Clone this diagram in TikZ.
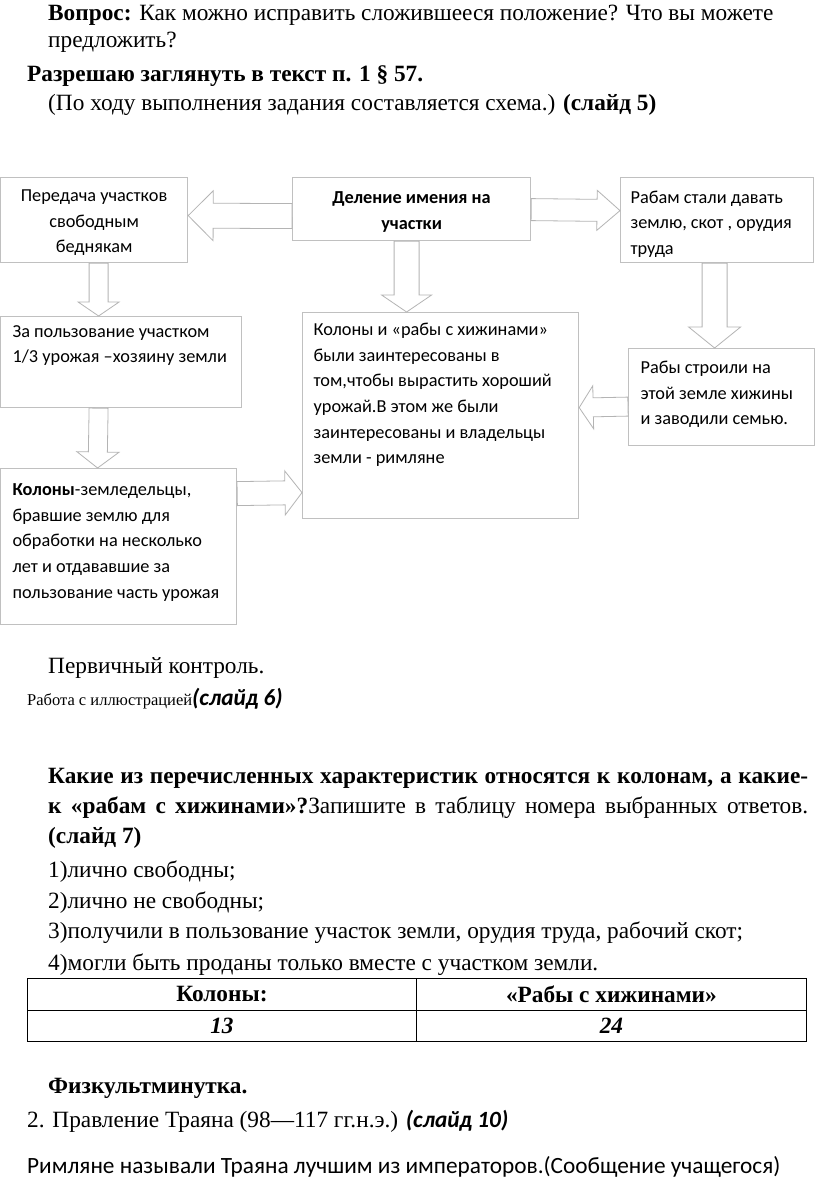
\documentclass[tikz,border=0pt]{standalone}
\usepackage{fontspec}
\setmainfont{Liberation Serif}
\newfontfamily\calibri{Carlito}
\usetikzlibrary{calc}

\definecolor{boxgray}{RGB}{192,192,192}
\definecolor{arrowgray}{RGB}{180,180,180}

\newcommand{\bodyfont}{\fontsize{23.3}{27}\selectfont}
\newcommand{\smallbody}{\fontsize{16.5}{19}\selectfont}
\newcommand{\boxfont}{\calibri\fontsize{18.3}{25.6}\selectfont}

% block arrow: start, tip, shaft half width, head half width, head length
\newcommand{\fatarrow}[5]{%
  \draw[fatline] let \p1=#1, \p2=#2, \n1={atan2(\y2-\y1,\x2-\x1)}, \n2={veclen(\x2-\x1,\y2-\y1)} in
    ($(\p1)+(\n1+90:#3)$) -- ++(\n1:\n2-#5) -- ++(\n1+90:#4-#3) -- (\p2)
    -- ($(\p2)+(\n1+180:#5)+(\n1-90:#4)$) -- ++(\n1+90:#4-#3) -- ($(\p1)+(\n1-90:#3)$) -- cycle;}

\begin{document}
\begin{tikzpicture}[x=1pt,y=1pt]
\tikzstyle{box}=[draw=boxgray,line width=1.2pt,fill=white,anchor=north west,inner sep=0pt,font=\boxfont]
\tikzstyle{fatline}=[draw=arrowgray,line width=0.8pt,fill=white,line join=miter]
\tikzstyle{txt}=[anchor=base west,inner sep=0pt,font=\bodyfont]
\tikzstyle{cell}=[draw,line width=0.8pt,anchor=north west,minimum width=389pt,minimum height=31.5pt,inner sep=0pt,font=\bodyfont]
\useasboundingbox (0,0) rectangle (816,-1204);
\fill[white] (0,0) rectangle (816,-1204);

% text above the scheme
\node[txt] (vopros) at (48,-21) {\textbf{Вопрос:} Как можно исправить сложившееся положение? Что вы можете};
\node[txt] (vopros2) at (48,-48) {предложить?};
\node[txt] (razreshayu) at (27,-82) {\textbf{Разрешаю заглянуть в текст п. 1 § 57.}};
\node[txt] (hod) at (48,-111) {(По ходу выполнения задания составляется схема.) \textbf{(слайд 5)}};

% scheme
\node[box,minimum width=187pt] (peredacha) at (0,-177)
  {\parbox[t][85pt][t]{170pt}{\centering\rule{0pt}{24pt}Передача участков\\свободным\\беднякам}};
\node[box,minimum width=238pt] (delenie) at (292,-177)
  {\parbox[t][63pt][t]{220pt}{\centering\bfseries\rule{0pt}{26pt}Деление имения на\\участки}};
\node[box,minimum width=193pt] (rabam) at (620,-177)
  {\parbox[t][85pt][t]{173pt}{\raggedright\rule{0pt}{25.7pt}Рабам стали давать\\землю, скот , орудия\\труда}};
\node[box,minimum width=241pt] (polzovanie) at (0,-316)
  {\parbox[t][91pt][t]{217pt}{\raggedright\rule{0pt}{20.7pt}За пользование участком\\1/3 урожая –хозяину земли}};
\node[box,minimum width=276pt] (interes) at (302,-312)
  {\parbox[t][206pt][t]{254pt}{\raggedright\rule{0pt}{23pt}Колоны и «рабы с хижинами»\\были заинтересованы в\\том,чтобы вырастить хороший\\урожай.В этом же были\\заинтересованы и владельцы\\земли - римляне}};
\node[box,minimum width=186pt] (stroili) at (628,-348)
  {\parbox[t][97pt][t]{162pt}{\raggedright\rule{0pt}{25pt}Рабы строили на\\этой земле хижины\\и заводили семью.}};
\node[box,minimum width=236pt] (kolony) at (0,-468)
  {\parbox[t][156pt][t]{212pt}{\raggedright\rule{0pt}{27pt}\textbf{Колоны}-земледельцы,\\бравшие землю для\\обработки на несколько\\лет и отдававшие за\\пользование часть урожая}};

% block arrows
\fatarrow{([yshift=-7pt]delenie.west)}{([yshift=4.5pt]peredacha.east)}{12.5}{25}{25}
\fatarrow{([yshift=-0.5pt]delenie.east)}{([yshift=9.5pt]rabam.west)}{11}{20}{23}
\fatarrow{([xshift=-5pt]delenie.south)}{([xshift=-34pt]interes.north)}{12.5}{25}{17}
\fatarrow{([xshift=4.5pt]peredacha.south)}{([xshift=-22.5pt]polzovanie.north)}{9.5}{20.5}{14}
\fatarrow{([xshift=-2.5pt]rabam.south)}{([xshift=-7pt]stroili.north)}{12.5}{26}{21}
\fatarrow{([yshift=-9.5pt]stroili.west)}{([yshift=8pt]interes.east)}{9.5}{21.5}{14}
\fatarrow{([xshift=-22.5pt]polzovanie.south)}{([xshift=-21pt]kolony.north)}{9.5}{21}{16}
\fatarrow{([yshift=53pt]kolony.east)}{([yshift=-77pt]interes.west)}{12}{22}{17}

% text below the scheme
\node[txt] (kontrol) at (48,-673) {Первичный контроль.};
\node[txt] (illustr) at (27,-705) {{\smallbody Работа с иллюстрацией}{\calibri\bfseries\itshape (слайд 6)}};
\node[txt] (kakie) at (48,-783) {\makebox[760pt][s]{\textbf{Какие из перечисленных характеристик относятся к колонам, а какие-}}};
\node[txt] (kakie2) at (48,-813) {\makebox[760pt][s]{\textbf{к «рабам с хижинами»?}Запишите в таблицу номера выбранных ответов.}};
\node[txt] (slaid7) at (48,-843) {\textbf{(слайд 7)}};
\node[txt] (otv1) at (48,-877) {1)лично свободны;};
\node[txt] (otv2) at (48,-908) {2)лично не свободны;};
\node[txt] (otv3) at (48,-938) {3)получили в пользование участок земли, орудия труда, рабочий скот;};
\node[txt] (otv4) at (48,-970) {4)могли быть проданы только вместе с участком земли.};

% table
\node[cell] (kolhead) at (27,-978) {\textbf{Колоны:}};
\node[cell,minimum width=390pt] (rabhead) at (416,-978) {\textbf{«Рабы с хижинами»}};
\node[cell] (kolnum) at (27,-1009.5) {\textbf{\textit{13}}};
\node[cell,minimum width=390pt] (rabnum) at (416,-1009.5) {\textbf{\textit{24}}};

\node[txt] (fizkult) at (48,-1093) {\textbf{Физкультминутка.}};
\node[txt] (trayan) at (27,-1127) {2. Правление Траяна (98—117 гг.н.э.) {\calibri\bfseries\itshape (слайд 10)}};
\node[txt] (rimlyane) at (27,-1173) {\calibri Римляне называли Траяна лучшим из императоров.(Сообщение учащегося)};
\end{tikzpicture}
\end{document}
